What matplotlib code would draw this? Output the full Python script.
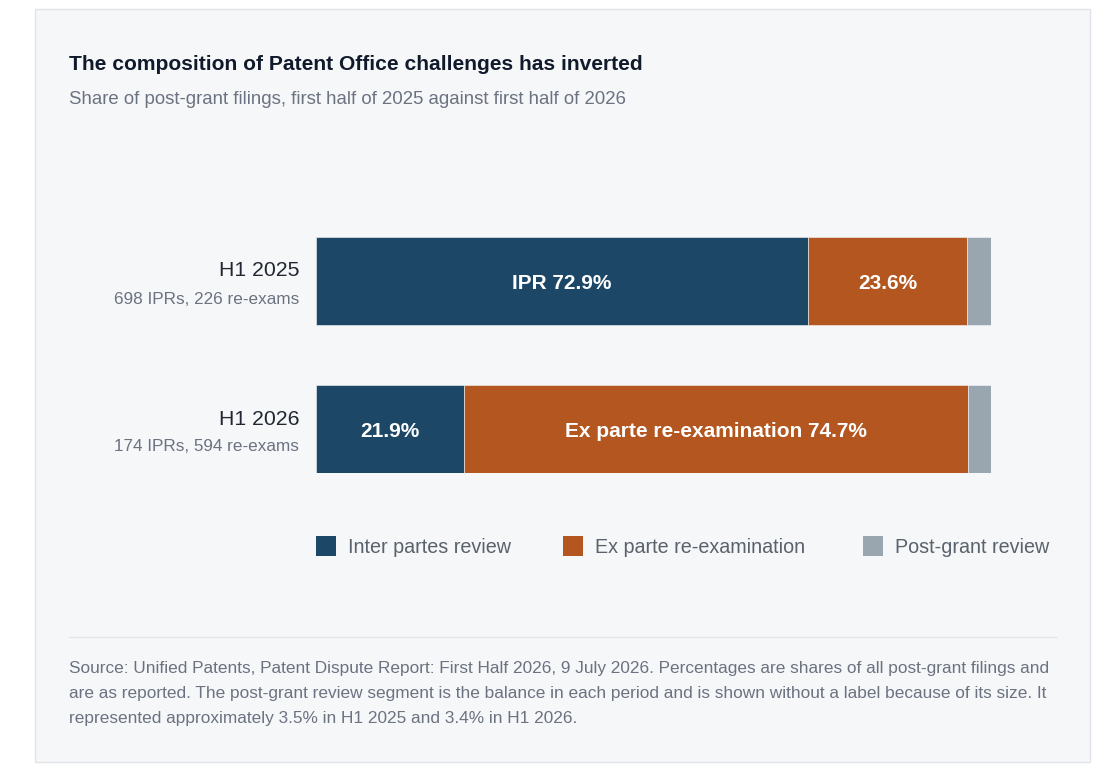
import matplotlib
matplotlib.use("Agg")
import matplotlib.pyplot as plt
from matplotlib.patches import Rectangle
from matplotlib.lines import Line2D

plt.rcParams['font.family'] = ['Liberation Sans', 'DejaVu Sans']

# ---- data ----
periods = ["H1 2025", "H1 2026"]
period_notes = ["698 IPRs, 226 re-exams", "174 IPRs, 594 re-exams"]
series_names = ["Inter partes review", "Ex parte re-examination", "Post-grant review"]
ipr = [72.9, 21.9]
exparte = [23.6, 74.7]
pgr = [3.5, 3.4]
ipr_labels = ["IPR 72.9%", "21.9%"]
exparte_labels = ["23.6%", "Ex parte re-examination 74.7%"]
colors = ["#1c4766", "#b3561f", "#9aa6af"]

title = "The composition of Patent Office challenges has inverted"
subtitle = "Share of post-grant filings, first half of 2025 against first half of 2026"
footer_lines = [
    "Source: Unified Patents, Patent Dispute Report: First Half 2026, 9 July 2026. Percentages are shares of all post-grant filings and",
    "are as reported. The post-grant review segment is the balance in each period and is shown without a label because of its size. It",
    "represented approximately 3.5% in H1 2025 and 3.4% in H1 2026.",
]

W, H = 1117, 772
fig = plt.figure(figsize=(W / 100, H / 100), dpi=100)
fig.patch.set_facecolor("white")

def fx(px):
    return px / W

def fy(py):
    return 1 - py / H

# card
fig.patches.append(Rectangle((fx(35), fy(762)), fx(1090) - fx(35), fy(9) - fy(762),
                             transform=fig.transFigure, facecolor="#f6f7f9",
                             edgecolor="#e1e4e8", linewidth=1, zorder=-5))

fig.text(fx(69), fy(65), title, fontsize=15.1, fontweight="bold", color="#111a2b",
         ha="left", va="center")
fig.text(fx(69), fy(100), subtitle, fontsize=13.4, color="#6b7280", ha="left", va="center")

# bars axes
ax = fig.add_axes([fx(316), fy(473), fx(991) - fx(316), fy(237) - fy(473)], zorder=2)
ax.set_facecolor("none")
bar_h = 88 / 148
y = [0, 1]
left2 = [a + b for a, b in zip(ipr, exparte)]
ax.barh(y, ipr, height=bar_h, color=colors[0], edgecolor="#f6f7f9", linewidth=0.4)
ax.barh(y, exparte, left=ipr, height=bar_h, color=colors[1], edgecolor="#f6f7f9", linewidth=0.4)
ax.barh(y, pgr, left=left2, height=bar_h, color=colors[2], edgecolor="#f6f7f9", linewidth=0.4)
ax.set_xlim(0, 100)
ax.set_ylim(1 + bar_h / 2, -bar_h / 2)
ax.axis("off")

dy = 2.5 / 148
for i in range(2):
    ax.text(ipr[i] / 2, y[i] + dy, ipr_labels[i], ha="center", va="center", color="white",
            fontsize=15, fontweight="bold")
    ax.text(ipr[i] + exparte[i] / 2, y[i] + dy, exparte_labels[i], ha="center", va="center",
            color="white", fontsize=15, fontweight="bold")

# category labels
cat_y = [271, 419]
for i in range(2):
    fig.text(fx(299), fy(cat_y[i]), periods[i], fontsize=15.3, color="#222831",
             ha="right", va="center")
    fig.text(fx(299), fy(cat_y[i] + 28), period_notes[i], fontsize=12.3, color="#6b7280",
             ha="right", va="center")

# legend
leg_sq_x = [316, 563, 863]
for i in range(3):
    fig.patches.append(Rectangle((fx(leg_sq_x[i]), fy(556)), fx(20), 20 / H,
                                 transform=fig.transFigure, facecolor=colors[i],
                                 edgecolor="none"))
    fig.text(fx(leg_sq_x[i] + 32), fy(547.5), series_names[i], fontsize=14.2,
             color="#5a626c", ha="left", va="center")

# separator
fig.add_artist(Line2D([fx(69), fx(1056)], [fy(637), fy(637)], transform=fig.transFigure,
                      color="#e1e4e8", linewidth=1))

foot_y = [669, 693.5, 718]
for line, yy in zip(footer_lines, foot_y):
    fig.text(fx(69), fy(yy), line, fontsize=12.4, color="#6b7280", ha="left", va="center")

fig.savefig("out.png", dpi=100, facecolor="white")
